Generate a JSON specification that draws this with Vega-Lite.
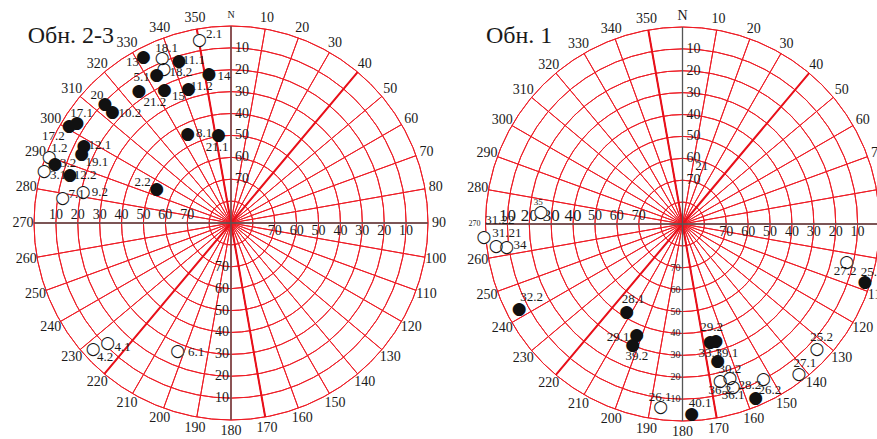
{
  "$schema": "https://vega.github.io/schema/vega-lite/v6.json",
  "width": 877,
  "height": 439,
  "autosize": "none",
  "padding": 0,
  "background": "white",
  "config": {"view": {"stroke": null}},
  "datasets": {
    "rings": [
      {"panel":"A","dip":0},{"panel":"A","dip":10},{"panel":"A","dip":20},{"panel":"A","dip":30},{"panel":"A","dip":40},{"panel":"A","dip":50},{"panel":"A","dip":60},{"panel":"A","dip":70},{"panel":"A","dip":80},
      {"panel":"B","dip":0},{"panel":"B","dip":10},{"panel":"B","dip":20},{"panel":"B","dip":30},{"panel":"B","dip":40},{"panel":"B","dip":50},{"panel":"B","dip":60},{"panel":"B","dip":70},{"panel":"B","dip":80}
    ],
    "radials": [
      {"panel":"A","az":0},{"panel":"A","az":10},{"panel":"A","az":20},{"panel":"A","az":30},{"panel":"A","az":40},{"panel":"A","az":50},{"panel":"A","az":60},{"panel":"A","az":70},{"panel":"A","az":80},
      {"panel":"A","az":90},{"panel":"A","az":100},{"panel":"A","az":110},{"panel":"A","az":120},{"panel":"A","az":130},{"panel":"A","az":140},{"panel":"A","az":150},{"panel":"A","az":160},{"panel":"A","az":170},
      {"panel":"A","az":180},{"panel":"A","az":190},{"panel":"A","az":200},{"panel":"A","az":210},{"panel":"A","az":220},{"panel":"A","az":230},{"panel":"A","az":240},{"panel":"A","az":250},{"panel":"A","az":260},
      {"panel":"A","az":270},{"panel":"A","az":280},{"panel":"A","az":290},{"panel":"A","az":300},{"panel":"A","az":310},{"panel":"A","az":320},{"panel":"A","az":330},{"panel":"A","az":340},{"panel":"A","az":350},
      {"panel":"B","az":0},{"panel":"B","az":10},{"panel":"B","az":20},{"panel":"B","az":30},{"panel":"B","az":40},{"panel":"B","az":50},{"panel":"B","az":60},{"panel":"B","az":70},{"panel":"B","az":80},
      {"panel":"B","az":90},{"panel":"B","az":100},{"panel":"B","az":110},{"panel":"B","az":120},{"panel":"B","az":130},{"panel":"B","az":140},{"panel":"B","az":150},{"panel":"B","az":160},{"panel":"B","az":170},
      {"panel":"B","az":180},{"panel":"B","az":190},{"panel":"B","az":200},{"panel":"B","az":210},{"panel":"B","az":220},{"panel":"B","az":230},{"panel":"B","az":240},{"panel":"B","az":250},{"panel":"B","az":260},
      {"panel":"B","az":270},{"panel":"B","az":280},{"panel":"B","az":290},{"panel":"B","az":300},{"panel":"B","az":310},{"panel":"B","az":320},{"panel":"B","az":330},{"panel":"B","az":340},{"panel":"B","az":350}
    ],
    "thick": [
      {"panel":"A","az":40},{"panel":"A","az":220},{"panel":"A","az":350},{"panel":"A","az":170},
      {"panel":"B","az":40},{"panel":"B","az":220},{"panel":"B","az":350},{"panel":"B","az":170}
    ],
    "axes": [
      {"panel":"A","az":0},{"panel":"A","az":90},{"panel":"A","az":180},{"panel":"A","az":270},
      {"panel":"B","az":0},{"panel":"B","az":90},{"panel":"B","az":180},{"panel":"B","az":270}
    ],
    "diplabels": [
      {"panel":"A","dip":10},{"panel":"A","dip":20},{"panel":"A","dip":30},{"panel":"A","dip":40},{"panel":"A","dip":50},{"panel":"A","dip":60},{"panel":"A","dip":70},
      {"panel":"B","dip":10},{"panel":"B","dip":20},{"panel":"B","dip":30},{"panel":"B","dip":40},{"panel":"B","dip":50},{"panel":"B","dip":60},{"panel":"B","dip":70}
    ],
    "points": [
      {"panel":"A","id":"2.1","az":350.2,"dip":5.2,"type":"open"},
      {"panel":"A","id":"13","az":332.2,"dip":4.1,"type":"filled"},
      {"panel":"A","id":"18.1","az":337.4,"dip":8.2,"type":"open"},
      {"panel":"A","id":"11.1","az":342.2,"dip":12.1,"type":"filled"},
      {"panel":"A","id":"18.2","az":336.4,"dip":13.4,"type":"open"},
      {"panel":"A","id":"5.1","az":333.3,"dip":14.3,"type":"filled"},
      {"panel":"A","id":"14","az":351.6,"dip":21.2,"type":"filled"},
      {"panel":"A","id":"21.2","az":325.1,"dip":16.5,"type":"filled"},
      {"panel":"A","id":"15","az":333.4,"dip":22.0,"type":"filled"},
      {"panel":"A","id":"11.2","az":342.3,"dip":25.9,"type":"filled"},
      {"panel":"A","id":"20","az":313.4,"dip":10.8,"type":"filled"},
      {"panel":"A","id":"10.2","az":313.2,"dip":15.7,"type":"filled"},
      {"panel":"A","id":"8.1","az":334.0,"dip":44.9,"type":"filled"},
      {"panel":"A","id":"21.1","az":351.8,"dip":49.5,"type":"filled"},
      {"panel":"A","id":"2.2","az":294.6,"dip":52.7,"type":"filled"},
      {"panel":"A","id":"17.1","az":302.9,"dip":6.1,"type":"filled"},
      {"panel":"A","id":"17.2","az":301.0,"dip":3.8,"type":"filled"},
      {"panel":"A","id":"12.1","az":297.7,"dip":14.1,"type":"filled"},
      {"panel":"A","id":"19.1","az":294.7,"dip":14.9,"type":"filled"},
      {"panel":"A","id":"1.2","az":290.1,"dip":1.6,"type":"open"},
      {"panel":"A","id":"3.2","az":288.5,"dip":5.2,"type":"filled"},
      {"panel":"A","id":"3.1","az":285.6,"dip":1.4,"type":"open"},
      {"panel":"A","id":"12.2","az":286.6,"dip":13.2,"type":"filled"},
      {"panel":"A","id":"9.2","az":282.0,"dip":21.0,"type":"open"},
      {"panel":"A","id":"7.1","az":278.5,"dip":12.2,"type":"open"},
      {"panel":"A","id":"4.1","az":225.7,"dip":11.3,"type":"open"},
      {"panel":"A","id":"4.2","az":227.5,"dip":4.6,"type":"open"},
      {"panel":"A","id":"6.1","az":202.6,"dip":26.6,"type":"open"},
      {"panel":"B","id":"35","az":275.0,"dip":25.1,"type":"open"},
      {"panel":"B","id":"31.22","az":266.3,"dip":-0.9,"type":"open"},
      {"panel":"B","id":"31.21","az":263.3,"dip":4.3,"type":"open"},
      {"panel":"B","id":"34","az":262.6,"dip":9.0,"type":"open"},
      {"panel":"B","id":"32.2","az":242.4,"dip":5.8,"type":"filled"},
      {"panel":"B","id":"28.1","az":212.5,"dip":42.5,"type":"filled"},
      {"panel":"B","id":"29.1","az":202.4,"dip":35.1,"type":"filled"},
      {"panel":"B","id":"39.2","az":202.4,"dip":30.2,"type":"filled"},
      {"panel":"B","id":"26.1","az":186.8,"dip":5.7,"type":"open"},
      {"panel":"B","id":"29.2","az":166.8,"dip":34.8,"type":"filled"},
      {"panel":"B","id":"33.1","az":164.0,"dip":34.5,"type":"filled"},
      {"panel":"B","id":"39.1","az":165.6,"dip":25.5,"type":"filled"},
      {"panel":"B","id":"36.2","az":166.5,"dip":16.4,"type":"open"},
      {"panel":"B","id":"30.2","az":162.9,"dip":16.4,"type":"open"},
      {"panel":"B","id":"36.1","az":162.7,"dip":12.1,"type":"open"},
      {"panel":"B","id":"28.2","az":152.4,"dip":10.2,"type":"open"},
      {"panel":"B","id":"26.2","az":157.2,"dip":3.6,"type":"filled"},
      {"panel":"B","id":"40.1","az":177.2,"dip":3.1,"type":"filled"},
      {"panel":"B","id":"27.1","az":142.2,"dip":3.2,"type":"open"},
      {"panel":"B","id":"25.2","az":133.0,"dip":6.1,"type":"open"},
      {"panel":"B","id":"27.2","az":102.9,"dip":13.0,"type":"open"},
      {"panel":"B","id":"25.1","az":107.7,"dip":2.5,"type":"filled"}
    ],
    "labels": [
      {"panel":"A","text":"2.1","az":354.9,"dip":3.3},
      {"panel":"A","text":"13","az":328.6,"dip":3.7},
      {"panel":"A","text":"18.1","az":339.8,"dip":4.9},
      {"panel":"A","text":"11.1","az":347.2,"dip":13.6},
      {"panel":"A","text":"18.2","az":341.7,"dip":17.2},
      {"panel":"A","text":"5.1","az":328.5,"dip":11.9},
      {"panel":"A","text":"14","az":357.3,"dip":22.6},
      {"panel":"A","text":"21.2","az":327.9,"dip":24.6},
      {"panel":"A","text":"15","az":337.5,"dip":27.2},
      {"panel":"A","text":"11.2","az":347.9,"dip":26.0},
      {"panel":"A","text":"20","az":313.7,"dip":5.3},
      {"panel":"A","text":"10.2","az":317.4,"dip":21.8},
      {"panel":"A","text":"8.1","az":343.3,"dip":47.1},
      {"panel":"A","text":"21.1","az":349.6,"dip":54.7},
      {"panel":"A","text":"2.2","az":294.7,"dip":45.6},
      {"panel":"A","text":"17.1","az":306.3,"dip":5.3},
      {"panel":"A","text":"17.2","az":296.2,"dip":-0.5},
      {"panel":"A","text":"12.1","az":300.8,"dip":20.3},
      {"panel":"A","text":"19.1","az":294.5,"dip":22.6},
      {"panel":"A","text":"1.2","az":293.5,"dip":4.5},
      {"panel":"A","text":"3.2","az":290.1,"dip":10.8},
      {"panel":"A","text":"3.1","az":285.5,"dip":8.1},
      {"panel":"A","text":"12.2","az":288.2,"dip":19.8},
      {"panel":"A","text":"9.2","az":283.2,"dip":28.5},
      {"panel":"A","text":"7.1","az":280.5,"dip":18.3},
      {"panel":"A","text":"4.1","az":221.2,"dip":14.9},
      {"panel":"A","text":"4.2","az":223.3,"dip":6.1},
      {"panel":"A","text":"6.1","az":195.2,"dip":29.1},
      {"panel":"B","text":"35","az":278.6,"dip":23.4},
      {"panel":"B","text":"31.22","az":271.3,"dip":6.6},
      {"panel":"B","text":"31.21","az":267.1,"dip":9.7},
      {"panel":"B","text":"34","az":262.6,"dip":15.1},
      {"panel":"B","text":"32.2","az":244.1,"dip":13.4},
      {"panel":"B","text":"28.1","az":213.2,"dip":48.9},
      {"panel":"B","text":"29.1","az":209.7,"dip":30.7},
      {"panel":"B","text":"39.2","az":199.1,"dip":26.2},
      {"panel":"B","text":"26.1","az":187.4,"dip":10.4},
      {"panel":"B","text":"29.2","az":164.3,"dip":40.9},
      {"panel":"B","text":"33.1","az":168.0,"dip":29.7},
      {"panel":"B","text":"39.1","az":161.0,"dip":27.6},
      {"panel":"B","text":"30.2","az":161.9,"dip":20.3},
      {"panel":"B","text":"36.2","az":167.3,"dip":12.2},
      {"panel":"B","text":"36.1","az":163.5,"dip":8.5},
      {"panel":"B","text":"28.2","az":157.3,"dip":10.2},
      {"panel":"B","text":"26.2","az":152.2,"dip":4.3},
      {"panel":"B","text":"40.1","az":174.4,"dip":7.7},
      {"panel":"B","text":"27.1","az":138.7,"dip":5.3},
      {"panel":"B","text":"25.2","az":129.0,"dip":8.2},
      {"panel":"B","text":"27.2","az":106.1,"dip":12.7},
      {"panel":"B","text":"25.1","az":104.1,"dip":0.7},
      {"panel":"B","text":"21","az":18.2,"dip":62.0}
    ],
    "titles": [
      {"panel":"A","text":"Обн. 2-3","az":319.4,"dip":-22.4},
      {"panel":"B","text":"Обн. 1","az":319.0,"dip":-23.8}
    ]
  },
  "encoding": {
    "x": {"field":"panel","type":"nominal","scale":{"type":"point","domain":["A","B"],"range":[231,682.5],"padding":0},"axis":null},
    "y": {"field":"panel","type":"nominal","scale":{"type":"point","domain":["A","B"],"range":[223,224],"padding":0},"axis":null}
  },
  "layer": [
    {
      "data": {"name":"rings"},
      "mark": {"type":"arc","filled":false,"color":"#ee1c25","strokeWidth":1,"theta":0,"theta2":6.2832},
      "encoding": {
        "radius": {"field":"dip","type":"quantitative","stack":null,"scale":{"type":"linear","domain":[90,0],"range":[0,197],"zero":false}},
        "radius2": {"field":"dip"}
      }
    },
    {
      "data": {"name":"radials"},
      "mark": {"type":"arc","filled":false,"color":"#ee1c25","strokeWidth":1},
      "encoding": {
        "theta": {"field":"az","type":"quantitative","stack":null,"scale":{"type":"linear","domain":[0,360],"range":[0,6.283185307179586],"zero":false}},
        "theta2": {"field":"az"},
        "radius": {"datum":0,"type":"quantitative","scale":{"type":"linear","domain":[90,0],"range":[0,197],"zero":false}},
        "radius2": {"datum":90}
      }
    },
    {
      "data": {"name":"thick"},
      "mark": {"type":"arc","filled":false,"color":"#e8101a","strokeWidth":2},
      "encoding": {
        "theta": {"field":"az","type":"quantitative","stack":null,"scale":{"type":"linear","domain":[0,360],"range":[0,6.283185307179586],"zero":false}},
        "theta2": {"field":"az"},
        "radius": {"datum":0,"type":"quantitative","scale":{"type":"linear","domain":[90,0],"range":[0,197],"zero":false}},
        "radius2": {"datum":90}
      }
    },
    {
      "data": {"name":"axes"},
      "mark": {"type":"arc","filled":false,"color":"#555555","strokeWidth":1.3},
      "encoding": {
        "theta": {"field":"az","type":"quantitative","stack":null,"scale":{"type":"linear","domain":[0,360],"range":[0,6.283185307179586],"zero":false}},
        "theta2": {"field":"az"},
        "radius": {"datum":0,"type":"quantitative","scale":{"type":"linear","domain":[90,0],"range":[0,197],"zero":false}},
        "radius2": {"datum":90}
      }
    },
    {
      "data": {"name":"radials"},
      "mark": {"type":"text","font":"Liberation Serif","color":"#1a1a1a","align":"center","baseline":"middle","radiusOffset":11},
      "encoding": {
        "theta": {"field":"az","type":"quantitative","scale":{"type":"linear","domain":[0,360],"range":[0,6.283185307179586],"zero":false}},
        "radius": {"datum":0,"type":"quantitative","scale":{"type":"linear","domain":[90,0],"range":[0,197],"zero":false}},
        "text": {"condition":{"test":"datum.az == 0","value":"N"},"field":"az","type":"quantitative"},
        "size": {"condition":[{"test":"datum.az == 0 && datum.panel == 'A'","value":10},{"test":"datum.az == 270 && datum.panel == 'B'","value":8}],"value":14}
      }
    },
    {
      "data": {"name":"diplabels"},
      "mark": {"type":"text","font":"Liberation Serif","color":"#1a1a1a","align":"left","baseline":"middle","dx":4},
      "encoding": {
        "theta": {"datum":0,"type":"quantitative","scale":{"type":"linear","domain":[0,360],"range":[0,6.283185307179586],"zero":false}},
        "radius": {"field":"dip","type":"quantitative","scale":{"type":"linear","domain":[90,0],"range":[0,197],"zero":false}},
        "text": {"field":"dip","type":"quantitative"},
        "size": {"value":14}
      }
    },
    {
      "data": {"name":"diplabels"},
      "mark": {"type":"text","font":"Liberation Serif","color":"#1a1a1a","align":"right","baseline":"middle","dx":-2},
      "encoding": {
        "theta": {"datum":180,"type":"quantitative","scale":{"type":"linear","domain":[0,360],"range":[0,6.283185307179586],"zero":false}},
        "radius": {"field":"dip","type":"quantitative","scale":{"type":"linear","domain":[90,0],"range":[0,197],"zero":false}},
        "text": {"field":"dip","type":"quantitative"},
        "size": {"condition":{"test":"datum.panel == 'B'","value":10},"value":14}
      }
    },
    {
      "data": {"name":"diplabels"},
      "mark": {"type":"text","font":"Liberation Serif","color":"#1a1a1a","align":"center","baseline":"middle","dy":8},
      "encoding": {
        "theta": {"datum":90,"type":"quantitative","scale":{"type":"linear","domain":[0,360],"range":[0,6.283185307179586],"zero":false}},
        "radius": {"field":"dip","type":"quantitative","scale":{"type":"linear","domain":[90,0],"range":[0,197],"zero":false}},
        "text": {"field":"dip","type":"quantitative"},
        "size": {"value":14}
      }
    },
    {
      "data": {"name":"diplabels"},
      "mark": {"type":"text","font":"Liberation Serif","color":"#1a1a1a","align":"center","baseline":"middle","dy":-8},
      "encoding": {
        "theta": {"datum":270,"type":"quantitative","scale":{"type":"linear","domain":[0,360],"range":[0,6.283185307179586],"zero":false}},
        "radius": {"field":"dip","type":"quantitative","scale":{"type":"linear","domain":[90,0],"range":[0,197],"zero":false}},
        "text": {"field":"dip","type":"quantitative"},
        "size": {"condition":{"test":"datum.panel == 'B' && datum.dip <= 40","value":17},"value":14}
      }
    },
    {
      "data": {"name":"points"},
      "transform": [{"filter":"datum.type == 'open'"}],
      "mark": {"type":"text","font":"DejaVu Sans","color":"white","align":"center","baseline":"middle","text":"●","fontSize":17},
      "encoding": {
        "theta": {"field":"az","type":"quantitative","scale":{"type":"linear","domain":[0,360],"range":[0,6.283185307179586],"zero":false}},
        "radius": {"field":"dip","type":"quantitative","scale":{"type":"linear","domain":[90,0],"range":[0,197],"zero":false}}
      }
    },
    {
      "data": {"name":"points"},
      "transform": [{"filter":"datum.type == 'open'"}],
      "mark": {"type":"text","font":"DejaVu Sans","color":"#111111","align":"center","baseline":"middle","text":"○","fontSize":17},
      "encoding": {
        "theta": {"field":"az","type":"quantitative","scale":{"type":"linear","domain":[0,360],"range":[0,6.283185307179586],"zero":false}},
        "radius": {"field":"dip","type":"quantitative","scale":{"type":"linear","domain":[90,0],"range":[0,197],"zero":false}}
      }
    },
    {
      "data": {"name":"points"},
      "transform": [{"filter":"datum.type == 'filled'"}],
      "mark": {"type":"text","font":"DejaVu Sans","color":"#111111","align":"center","baseline":"middle","text":"●","fontSize":17},
      "encoding": {
        "theta": {"field":"az","type":"quantitative","scale":{"type":"linear","domain":[0,360],"range":[0,6.283185307179586],"zero":false}},
        "radius": {"field":"dip","type":"quantitative","scale":{"type":"linear","domain":[90,0],"range":[0,197],"zero":false}}
      }
    },
    {
      "data": {"name":"labels"},
      "mark": {"type":"text","font":"Liberation Serif","color":"#1a1a1a","align":"center","baseline":"middle"},
      "encoding": {
        "theta": {"field":"az","type":"quantitative","scale":{"type":"linear","domain":[0,360],"range":[0,6.283185307179586],"zero":false}},
        "radius": {"field":"dip","type":"quantitative","scale":{"type":"linear","domain":[90,0],"range":[0,197],"zero":false}},
        "text": {"field":"text","type":"nominal"},
        "size": {"condition":{"test":"datum.text == '35'","value":9},"value":13}
      }
    },
    {
      "data": {"name":"titles"},
      "mark": {"type":"text","font":"Liberation Serif","color":"#1a1a1a","align":"center","baseline":"middle","fontSize":24},
      "encoding": {
        "theta": {"field":"az","type":"quantitative","scale":{"type":"linear","domain":[0,360],"range":[0,6.283185307179586],"zero":false}},
        "radius": {"field":"dip","type":"quantitative","scale":{"type":"linear","domain":[90,0],"range":[0,197],"zero":false}},
        "text": {"field":"text","type":"nominal"}
      }
    }
  ]
}
